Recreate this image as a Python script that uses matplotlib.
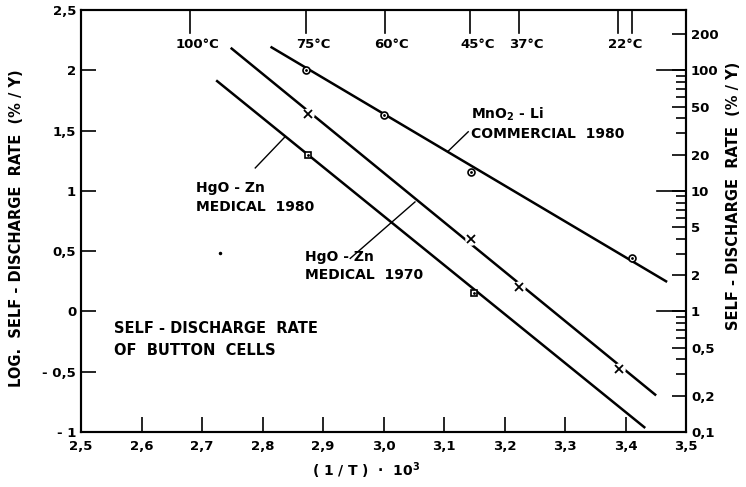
import numpy as np
import matplotlib.pyplot as plt

plt.rcParams['font.family'] = ['DejaVu Sans']
plt.rcParams['font.weight'] = 'bold'
plt.rcParams['axes.labelweight'] = 'bold'

# straight fitted lines (x = 1000/T, y = log rate)
mno2_line_x = [2.815, 3.467]
mno2_line_y = [2.19, 0.25]
hgo70_line_x = [2.749, 3.449]
hgo70_line_y = [2.18, -0.69]
hgo80_line_x = [2.725, 3.431]
hgo80_line_y = [1.91, -0.96]

# measured points
mno2_pts_x = [2.872, 3.000, 3.145, 3.410]
mno2_pts_y = [2.00, 1.63, 1.155, 0.44]
hgo70_pts_x = [2.875, 3.145, 3.224, 3.390]
hgo70_pts_y = [1.64, 0.60, 0.20, -0.48]
hgo80_pts_x = [2.875, 3.150]
hgo80_pts_y = [1.30, 0.15]

# temperature marks along the top
temps_c = [100, 75, 60, 45, 37, 22, 20]
temp_labels = ['100°C', '75°C', '60°C', '45°C', '37°C', '22°C', '']

x_ticks = [2.5, 2.6, 2.7, 2.8, 2.9, 3.0, 3.1, 3.2, 3.3, 3.4, 3.5]
x_labels = ['2,5', '2,6', '2,7', '2,8', '2,9', '3,0', '3,1', '3,2', '3,3', '3,4', '3,5']
y_ticks = [-1, -0.5, 0, 0.5, 1, 1.5, 2, 2.5]
y_labels = ['- 1', '- 0,5', '0', '0,5', '1', '1,5', '2', '2,5']
rate_major = [0.1, 1, 10, 100]
rate_labels = {0.1: '0,1', 0.2: '0,2', 0.5: '0,5', 1: '1', 2: '2', 5: '5',
               10: '10', 20: '20', 50: '50', 100: '100', 200: '200'}

fig = plt.figure(figsize=(7.46, 4.87), dpi=100)
ax = fig.add_axes([0.1086, 0.1129, 0.8110, 0.8666])
ax.set_xlim(2.5, 3.5)
ax.set_ylim(-1, 2.5)

lw = 1.8
ax.plot(mno2_line_x, mno2_line_y, color='black', lw=lw)
ax.plot(hgo70_line_x, hgo70_line_y, color='black', lw=lw)
ax.plot(hgo80_line_x, hgo80_line_y, color='black', lw=lw)
ax.plot(mno2_pts_x, mno2_pts_y, 'o', ms=5, mfc='white', mec='black', mew=1.2)
ax.plot(mno2_pts_x, mno2_pts_y, '.', ms=2, color='black')
# small gaps in the line around the crosses
ax.plot(hgo70_pts_x, hgo70_pts_y, 'o', ms=9, mfc='white', mec='none')
ax.plot(hgo70_pts_x, hgo70_pts_y, 'x', ms=6, mec='black', mew=1.3)
ax.plot(hgo80_pts_x, hgo80_pts_y, 's', ms=5, mfc='white', mec='black', mew=1.2)
ax.plot(hgo80_pts_x, hgo80_pts_y, '.', ms=2, color='black')
ax.plot([2.73], [0.485], '.', ms=3, color='black')

for s in ax.spines.values():
    s.set_linewidth(1.5)

ax.set_xticks(x_ticks)
ax.set_xticklabels(x_labels)
ax.set_yticks(y_ticks)
ax.set_yticklabels(y_labels)
ax.tick_params(direction='in', length=11, width=1.2, labelsize=9.5, top=False)
ax.tick_params(axis='x', pad=6)

# temperature ticks on top
inv_t = [1000.0 / (t + 273.15) for t in temps_c]
for xv, lab in zip(inv_t, temp_labels):
    ax.plot([xv, xv], [2.5, 2.31], color='black', lw=1.2)
    if lab:
        ax.text(xv + 0.012, 2.21, lab, ha='center', va='center', fontsize=9.5)

# right log axis
ax2 = ax.twinx()
ax2.set_ylim(-1, 2.5)
ax2.set_yticks([np.log10(v) for v in sorted(rate_labels)])
ax2.set_yticklabels([rate_labels[v] for v in sorted(rate_labels)])
minor = [np.log10(m * d) for d in [0.1, 1, 10, 100] for m in range(2, 10)
         if m * d <= 250 and m not in (2, 5)]
ax2.set_yticks(minor, minor=True)
ax2.tick_params(axis='y', which='major', direction='in', length=10, width=1.2, labelsize=9.5)
ax2.tick_params(axis='y', which='minor', direction='in', length=7, width=1.2)
for v in rate_major:
    ax2.plot([3.452, 3.5], [np.log10(v)] * 2, color='black', lw=1.2, clip_on=False)
for s in ax2.spines.values():
    s.set_linewidth(1.5)

# annotations
fs = 10
ax.plot([3.107, 3.14], [1.33, 1.49], color='black', lw=1)
ax.text(3.145, 1.56, 'MnO$_2$ - Li\nCOMMERCIAL  1980', fontsize=fs, va='center', linespacing=1.3)
ax.plot([2.788, 2.837], [1.19, 1.447], color='black', lw=1)
ax.text(2.69, 1.08, 'HgO - Zn\nMEDICAL  1980', fontsize=fs, va='top', linespacing=1.4)
ax.plot([3.052, 2.945], [0.908, 0.44], color='black', lw=1)
ax.text(2.87, 0.51, 'HgO - Zn\nMEDICAL  1970', fontsize=fs, va='top', linespacing=1.4)
ax.text(2.555, -0.08, 'SELF - DISCHARGE  RATE\nOF  BUTTON  CELLS', fontsize=10.5,
        va='top', linespacing=1.6)

ax.set_xlabel('( 1 / T )  ·  10$^3$', fontsize=10)
ax.xaxis.set_label_coords(0.471, -0.068)
ax.set_ylabel('LOG.  SELF - DISCHARGE  RATE  (% / Y)', fontsize=10.5)
ax.yaxis.set_label_coords(-0.094, 0.483)
ax2.set_ylabel('SELF - DISCHARGE  RATE  (% / Y)', fontsize=10.5)
ax2.yaxis.set_label_coords(1.066, 0.56)

fig.savefig('out.png', dpi=100)
